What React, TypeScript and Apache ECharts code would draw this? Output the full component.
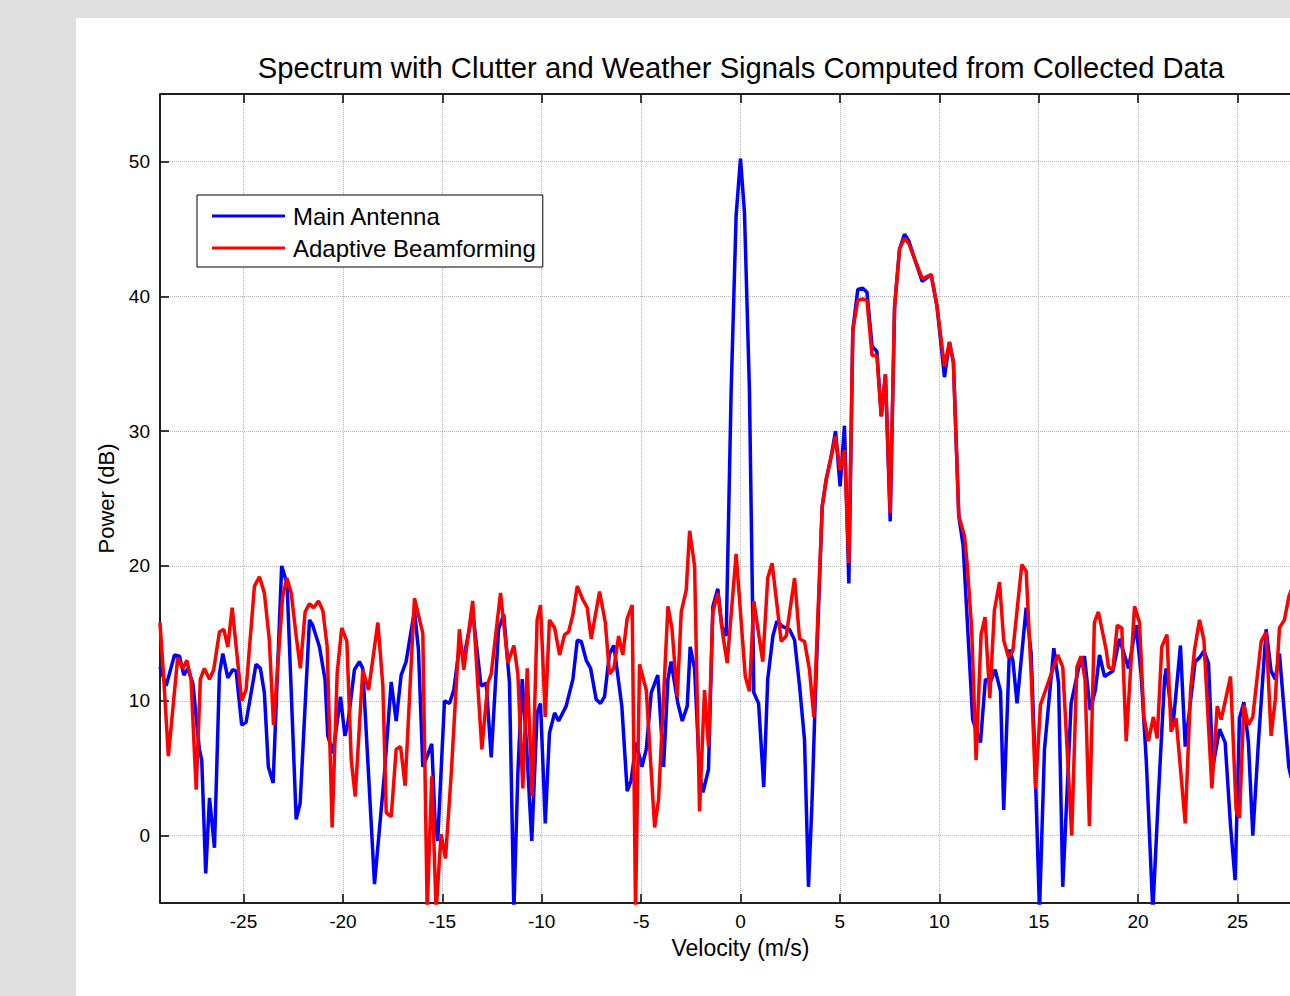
import React, { useEffect, useRef } from "react";
import * as echarts from "echarts";

const FONT = "'Liberation Sans', Arial, Helvetica, sans-serif";

const chartTitle = "Spectrum with Clutter and Weather Signals Computed from Collected Data";
const xAxisName = "Velocity (m/s)";
const yAxisName = "Power (dB)";
const seriesNames = ["Main Antenna", "Adaptive Beamforming"];

const xTicks = [-25, -20, -15, -10, -5, 0, 5, 10, 15, 20, 25];
const yTicks = [0, 10, 20, 30, 40, 50];

// Main Antenna (blue): velocity (m/s) and power (dB) at the visible vertices
const mainVel = [
  -29.2, -28.89, -28.47, -28.22, -28.0, -27.8, -27.55, -27.22, -27.1, -26.9, -26.71, -26.46, -26.21, -26.04,
  -25.79, -25.54, -25.37, -25.09, -24.87, -24.37, -24.15, -23.95, -23.75, -23.51, -23.08, -22.81, -22.35,
  -22.15, -21.68, -21.52, -21.18, -20.9, -20.76, -20.5, -20.12, -19.9, -19.75, -19.42, -19.17, -19.0, -18.41,
  -17.91, -17.57, -17.32, -17.07, -16.82, -16.4, -16.2, -15.98, -15.76, -15.53, -15.36, -15.23, -14.89,
  -14.64, -14.42, -14.14, -13.92, -13.47, -13.05, -12.79, -12.54, -12.17, -11.91, -11.62, -11.4, -11.2,
  -10.98, -10.78, -10.5, -10.23, -10.06, -9.82, -9.61, -9.35, -9.15, -8.77, -8.43, -8.21, -8.01, -7.76,
  -7.54, -7.26, -7.04, -6.84, -6.59, -6.37, -5.97, -5.7, -5.5, -5.25, -4.96, -4.74, -4.49, -4.16, -3.87,
  -3.65, -3.49, -3.15, -2.93, -2.68, -2.53, -2.31, -2.06, -1.89, -1.61, -1.39, -1.14, -0.94, -0.72, -0.47,
  -0.22, 0.0, 0.2, 0.45, 0.67, 0.91, 1.17, 1.37, 1.63, 1.83, 2.13, 2.46, 2.72, 2.97, 3.22, 3.42, 3.59, 3.76,
  4.11, 4.31, 4.56, 4.78, 5.01, 5.23, 5.45, 5.65, 5.9, 6.15, 6.36, 6.62, 6.86, 7.08, 7.29, 7.53, 7.75, 8.0,
  8.25, 8.47, 8.75, 9.14, 9.59, 9.88, 10.26, 10.51, 10.71, 10.98, 11.2, 11.68, 12.07, 12.32, 12.57, 12.81,
  13.08, 13.24, 13.53, 13.7, 13.91, 14.37, 14.62, 14.79, 15.04, 15.29, 15.76, 16.0, 16.21, 16.63, 17.02,
  17.3, 17.59, 17.85, 18.06, 18.31, 18.73, 19.06, 19.52, 19.9, 20.15, 20.41, 20.74, 21.03, 21.33, 21.41,
  21.75, 22.13, 22.37, 22.87, 23.09, 23.31, 23.54, 23.76, 24.1, 24.38, 24.65, 24.88, 25.1, 25.32, 25.55,
  25.77, 26.06, 26.44, 26.69, 26.9, 27.11, 27.58, 27.7,
];
const mainDb = [
  12.5, 11.1, 13.4, 13.3, 11.9, 12.4, 11.3, 6.4, 5.6, -2.8, 2.8, -0.9, 12.0, 13.5,
  11.7, 12.3, 12.2, 8.2, 8.4, 12.7, 12.4, 10.6, 5.1, 3.9, 20.0, 18.7, 1.2,
  2.4, 16.0, 15.6, 14.0, 11.6, 7.4, 6.1, 10.3, 7.4, 8.3, 12.3, 12.9, 12.4, -3.6,
  4.6, 11.4, 8.5, 11.9, 12.9, 16.7, 13.8, 5.1, 5.9, 6.8, 0.9, -0.4, 10.0,
  9.8, 10.8, 14.0, 13.2, 16.6, 11.1, 11.3, 5.8, 15.3, 16.4, 11.3, -5.6, 4.6,
  11.6, 7.1, -0.4, 9.1, 9.8, 0.9, 7.6, 9.1, 8.5, 9.6, 11.6, 14.5, 14.4, 13.0,
  12.4, 10.1, 9.8, 10.3, 13.5, 14.1, 9.6, 3.3, 4.1, 6.9, 5.1, 6.4, 10.6, 11.9, 5.1,
  11.6, 12.9, 9.8, 8.5, 9.6, 14.0, 12.4, 4.6, 3.2, 4.9, 17.0, 18.3, 15.5, 14.8, 33.0,
  46.0, 50.2, 46.2, 33.0, 10.6, 9.8, 3.6, 11.6, 14.8, 15.9, 15.5, 15.3, 14.5, 11.1, 7.1, -3.8, 2.2, 10.1,
  24.4, 26.4, 28.1, 30.0, 25.9, 30.4, 18.7, 37.5, 40.5, 40.6, 40.3, 36.3, 35.9, 31.1, 34.2, 23.3, 39.2, 43.5,
  44.6, 44.1, 42.8, 41.1, 41.6, 39.3, 34.0, 36.6, 35.1, 23.7, 21.5, 8.6, 6.9, 11.6, 11.4, 12.3,
  10.7, 1.9, 13.8, 13.0, 9.8, 16.9, 13.5, 6.6, -5.6, 6.4, 13.9, 11.3, -3.8, 9.8, 12.5,
  13.3, 9.3, 10.8, 13.4, 11.8, 12.2, 14.6, 12.4, 15.6, 12.0, 5.6, -5.6, 3.2, 11.6, 12.4,
  8.1, 14.1, 6.6, 12.9, 13.2, 13.7, 12.8, 5.1, 7.9, 6.9, 0.7, -3.3, 8.7, 9.9, 6.9,
  0.0, 7.1, 15.3, 12.2, 11.6, 13.5, 5.1, 4.3,
];

// Adaptive Beamforming (red)
const adaptVel = [
  -29.2, -29.01, -28.78, -28.31, -28.05, -27.85, -27.64, -27.38, -27.17, -26.97, -26.71, -26.5, -26.21,
  -25.99, -25.79, -25.57, -25.32, -25.09, -24.87, -24.45, -24.2, -23.95, -23.7, -23.49, -23.03, -22.82,
  -22.6, -22.35, -22.14, -21.9, -21.68, -21.47, -21.23, -21.01, -20.79, -20.54, -20.29, -20.06, -19.8,
  -19.58, -19.38, -19.0, -18.71, -18.24, -17.99, -17.82, -17.57, -17.32, -17.1, -16.87, -16.4, -15.98,
  -15.76, -15.53, -15.31, -15.06, -14.84, -14.55, -14.14, -13.92, -13.47, -13.21, -13.01, -12.71, -12.54,
  -12.07, -11.7, -11.4, -11.2, -10.95, -10.73, -10.48, -10.23, -10.06, -9.82, -9.61, -9.35, -9.1, -8.85,
  -8.65, -8.43, -8.21, -7.93, -7.71, -7.51, -7.09, -6.8, -6.59, -6.37, -6.13, -5.92, -5.7, -5.45, -5.28,
  -5.08, -4.74, -4.32, -4.12, -3.65, -3.45, -3.18, -2.98, -2.73, -2.56, -2.31, -2.06, -1.81, -1.61, -1.39,
  -1.14, -0.89, -0.67, -0.22, 0.24, 0.45, 0.67, 1.12, 1.37, 1.59, 2.05, 2.3, 2.72, 2.97, 3.22, 3.47, 3.69,
  4.11, 4.31, 4.56, 4.78, 5.01, 5.23, 5.45, 5.65, 5.9, 6.15, 6.36, 6.62, 6.86, 7.08, 7.29, 7.53, 7.75, 8.0,
  8.25, 8.47, 8.75, 9.14, 9.59, 9.88, 10.26, 10.51, 10.71, 10.98, 11.27, 11.4, 11.63, 11.85, 12.1, 12.3,
  12.54, 12.77, 13.03, 13.24, 13.48, 13.7, 14.15, 14.37, 14.62, 14.84, 15.09, 15.96, 16.21, 16.66, 16.92,
  17.13, 17.33, 17.55, 17.8, 18.0, 18.39, 18.51, 18.73, 18.95, 19.18, 19.4, 19.82, 20.07, 20.29, 20.52,
  20.77, 20.96, 21.19, 21.45, 21.66, 21.91, 22.37, 22.64, 22.84, 23.09, 23.31, 23.71, 23.98, 24.18, 24.65,
  24.93, 25.1, 25.32, 25.55, 25.77, 26.19, 26.44, 26.69, 26.9, 27.11, 27.36, 27.58, 27.7,
];
const adaptDb = [
  15.8, 11.6, 5.9, 13.2, 12.4, 13.0, 11.6, 3.4, 11.6, 12.4, 11.6, 12.3, 15.1,
  15.3, 14.0, 16.9, 13.3, 10.0, 10.8, 18.5, 19.2, 18.0, 14.5, 8.2, 17.7, 19.1,
  18.0, 14.8, 12.4, 16.6, 17.2, 16.9, 17.4, 16.7, 14.0, 0.6, 12.0, 15.4, 14.4,
  5.6, 2.9, 12.3, 10.8, 15.8, 11.1, 1.7, 1.4, 6.4, 6.6, 3.7, 17.6, 15.0,
  -5.6, 4.4, -5.6, 0.1, -1.7, 4.6, 15.3, 12.3, 17.4, 11.1, 6.4, 11.3, 12.0,
  18.0, 12.8, 14.1, 12.0, 3.5, 12.4, 2.9, 16.0, 17.1, 8.8, 16.0, 15.4, 13.4, 14.9,
  15.1, 16.4, 18.5, 17.5, 16.9, 14.6, 18.1, 15.8, 12.0, 12.4, 14.8, 13.4, 16.1, 17.1, -5.6,
  12.7, 10.8, 0.6, 2.7, 17.0, 15.4, 10.3, 16.6, 18.2, 22.6, 20.0, 1.8, 10.8, 6.6, 16.6,
  18.0, 14.9, 12.8, 20.9, 11.8, 10.7, 17.4, 12.9, 19.1, 20.2, 14.4, 14.8, 19.1, 14.6, 14.4, 12.3, 8.8,
  24.4, 26.4, 28.1, 29.6, 27.1, 28.6, 20.2, 37.5, 39.7, 39.8, 39.7, 35.6, 35.6, 31.1, 34.2, 23.9, 39.2, 43.5,
  44.3, 43.9, 42.8, 41.3, 41.6, 39.3, 34.8, 36.6, 35.1, 23.7, 22.2, 20.2, 15.3, 5.6, 14.9, 16.2,
  10.2, 16.7, 18.8, 14.5, 13.2, 13.7, 20.1, 19.6, 12.0, 3.5, 9.7, 13.4, 12.5, 0.0, 12.5,
  13.3, 11.6, 0.7, 15.8, 16.6, 13.8, 12.5, 12.3, 15.6, 15.4, 7.0, 17.0, 15.8, 8.8, 7.0,
  8.8, 7.2, 14.0, 14.9, 7.7, 8.7, 0.9, 10.8, 13.8, 16.0, 14.5, 3.5, 9.6, 8.6, 11.8,
  1.9, 1.3, 9.7, 8.2, 8.8, 14.4, 15.1, 7.4, 10.1, 15.4, 16.0, 17.7, 18.2,
];

const zip = (xs: number[], ys: number[]) => xs.map((x, i) => [x, ys[i]]);

const CHART_W = 1340;
const CHART_H = 996;

export default function App() {
  const ref = useRef<HTMLDivElement>(null);

  useEffect(() => {
    if (!ref.current) return;
    const chart = echarts.init(ref.current, null, { renderer: "svg" });
    const black = "#000";
    chart.setOption({
      animation: false,
      backgroundColor: "#ffffff",
      textStyle: { fontFamily: FONT },
      graphic: [
        { type: "rect", silent: true, shape: { x: 0, y: 0, width: CHART_W, height: 18 }, style: { fill: "#e0e0e0" } },
        { type: "rect", silent: true, shape: { x: 0, y: 0, width: 76, height: CHART_H }, style: { fill: "#e0e0e0" } },
        {
          type: "text",
          silent: true,
          x: 741,
          y: 68,
          style: {
            text: chartTitle,
            fill: black,
            fontSize: 29.2,
            fontFamily: FONT,
            textAlign: "center",
            textVerticalAlign: "middle",
          },
        },
      ],
      legend: {
        data: seriesNames,
        orient: "vertical",
        left: 197,
        top: 195,
        backgroundColor: "#fff",
        borderColor: black,
        borderWidth: 1,
        borderRadius: 0,
        padding: [9, 7, 7, 15],
        icon: "rect",
        itemWidth: 73,
        itemHeight: 3,
        itemGap: 8,
        textStyle: { fontSize: 24, color: black, fontFamily: FONT, padding: [0, 0, 0, 3] },
      },
      grid: {
        left: 160,
        top: 94,
        width: 1161,
        height: 809,
        show: true,
        borderColor: black,
        borderWidth: 1,
        backgroundColor: "#fff",
      },
      xAxis: [
        {
          type: "value",
          position: "bottom",
          min: -29.2,
          max: 29.2,
          name: xAxisName,
          nameLocation: "middle",
          nameGap: 33,
          nameTextStyle: { fontSize: 23, color: black, fontFamily: FONT },
          axisLine: { show: true, onZero: false, lineStyle: { color: black, width: 1.5 } },
          axisTick: { show: true, inside: true, length: 9, customValues: xTicks, lineStyle: { color: black, width: 1.5 } },
          axisLabel: { customValues: xTicks, fontSize: 19, color: black, margin: 9, fontFamily: FONT },
          splitLine: { show: true, lineStyle: { color: "#b4b4b4", type: "dotted", width: 1 } },
        },
        {
          type: "value",
          position: "top",
          min: -29.2,
          max: 29.2,
          axisLine: { show: true, onZero: false, lineStyle: { color: black, width: 1.5 } },
          axisTick: { show: true, inside: true, length: 9, customValues: xTicks, lineStyle: { color: black, width: 1.5 } },
          axisLabel: { show: false },
          splitLine: { show: false },
        },
      ],
      yAxis: {
        type: "value",
        min: -5,
        max: 55,
        name: yAxisName,
        nameLocation: "middle",
        nameGap: 42,
        nameTextStyle: { fontSize: 22, color: black, fontFamily: FONT },
        axisLine: { show: true, onZero: false, lineStyle: { color: black, width: 1.5 } },
        axisTick: { show: true, inside: true, length: 9, customValues: yTicks, lineStyle: { color: black, width: 1.5 } },
        axisLabel: { customValues: yTicks, fontSize: 19, color: black, margin: 10, fontFamily: FONT },
        splitLine: { show: true, lineStyle: { color: "#b4b4b4", type: "dotted", width: 1 } },
      },
      series: [
        {
          name: seriesNames[0],
          type: "line",
          xAxisIndex: 0,
          data: zip(mainVel, mainDb),
          symbol: "none",
          clip: true,
          lineStyle: { color: "#0000ff", width: 3.5 },
          itemStyle: { color: "#0000ff" },
        },
        {
          name: seriesNames[1],
          type: "line",
          xAxisIndex: 0,
          data: zip(adaptVel, adaptDb),
          symbol: "none",
          clip: true,
          lineStyle: { color: "#ff0000", width: 3.5 },
          itemStyle: { color: "#ff0000" },
        },
      ],
    });
    return () => chart.dispose();
  }, []);

  return (
    <div style={{ position: "fixed", left: 0, top: 0, width: 1290, height: 996, overflow: "hidden" }}>
      <div ref={ref} style={{ width: CHART_W, height: CHART_H }} />
    </div>
  );
}
